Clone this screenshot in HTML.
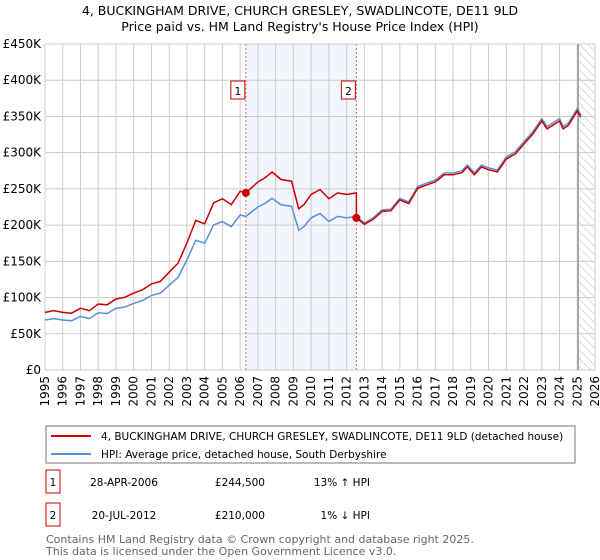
<!DOCTYPE html>
<html><head><meta charset="utf-8"><style>
body{margin:0;background:#fff;font-family:"DejaVu Sans","Liberation Sans",sans-serif;}
#wrap{position:relative;width:600px;height:560px;overflow:hidden;}
svg text{font-family:"DejaVu Sans","Liberation Sans",sans-serif;}
</style></head><body>
<div id="wrap">
<svg id="chart" width="600" height="560"></svg>
</div>
<script>
const hpiYears=[1995,1995.5,1996,1996.5,1997,1997.5,1998,1998.5,1999,1999.5,2000,2000.5,2001,2001.5,2002,2002.5,2003,2003.5,2004,2004.5,2005,2005.5,2006,2006.32,2007,2007.4,2007.8,2008.3,2008.9,2009.3,2009.6,2010,2010.5,2011,2011.5,2012,2012.55,2013,2013.5,2014,2014.5,2015,2015.5,2016,2016.5,2017,2017.5,2018,2018.5,2018.8,2019.2,2019.6,2020,2020.5,2021,2021.5,2022,2022.5,2023,2023.3,2024,2024.2,2024.5,2025,2025.2];
const hpiValues=[69,71,69,68,74,71,79,78,85,87,92,96,103,106,117,128,152,179,175,200,205,198,214,212,225,230,237,228,226,193,198,210,216,205,212,210,212,203,210,221,222,237,232,253,258,262,272,272,275,283,272,283,279,276,294,301,315,329,347,336,347,336,341,361,352];
const saleYears=[2006.32,2012.55];
const salePrices=[244.5,210];
const saleLabels=["1","2"];
const yTicks=[0,50,100,150,200,250,300,350,400,450];
const yTickLabels=["£0","£50K","£100K","£150K","£200K","£250K","£300K","£350K","£400K","£450K"];
const xTicks=[1995,1996,1997,1998,1999,2000,2001,2002,2003,2004,2005,2006,2007,2008,2009,2010,2011,2012,2013,2014,2015,2016,2017,2018,2019,2020,2021,2022,2023,2024,2025,2026];

const L=45,R=595,T=44,B=370;
const xs=y=>L+(y-1995)/(2026-1995)*(R-L);
const ys=v=>B-v/450*(B-T);
const svg=document.getElementById('chart');
const NS='http://www.w3.org/2000/svg';
function mk(tag,attrs,parent){const e=document.createElementNS(NS,tag);for(const k in attrs)e.setAttribute(k,attrs[k]);(parent||svg).appendChild(e);return e;}

let t=mk('text',{x:300,y:15,'text-anchor':'middle','font-size':12.5,fill:'#000'});t.textContent="4, BUCKINGHAM DRIVE, CHURCH GRESLEY, SWADLINCOTE, DE11 9LD";


t=mk('text',{x:300,y:31,'text-anchor':'middle','font-size':12.5,fill:'#000'});t.textContent="Price paid vs. HM Land Registry's House Price Index (HPI)";



let sh=mk('rect',{x:xs(saleYears[0]),y:T,width:xs(saleYears[1])-xs(saleYears[0]),height:B-T,fill:'#eef2fb',opacity:0.8});


const defs=mk('defs',{});
const pat=mk('pattern',{id:'h',width:6,height:6,patternUnits:'userSpaceOnUse',patternTransform:'rotate(-45)'},defs);
mk('line',{x1:0,y1:0,x2:0,y2:6,stroke:'#bbb','stroke-width':1},pat);
let hx=xs(2025.05);
let hr=mk('rect',{x:hx,y:T,width:R-hx,height:B-T,fill:'url(#h)'});



yTicks.forEach((v,i)=>{
  const g=mk('line',{x1:L,x2:R,y1:ys(v),y2:ys(v),stroke:'#ccc','stroke-width':1});
  
  
  const tx=mk('text',{x:L-4,y:ys(v)+4,'text-anchor':'end','font-size':12,fill:'#000'});tx.textContent=yTickLabels[i];
  
  
});
xTicks.forEach(y=>{
  const g=mk('line',{x1:xs(y),x2:xs(y),y1:T,y2:B,stroke:'#ccc','stroke-width':1});
  
  
  const tx=mk('text',{x:0,y:0,'text-anchor':'end','font-size':12,fill:'#000',transform:`translate(${xs(y)+4},${B+6}) rotate(-90)`});tx.textContent=y;
  
  
});
let vl=mk('line',{x1:hx,x2:hx,y1:T,y2:B,stroke:'#999','stroke-width':1.5});



saleYears.forEach((y,i)=>{
  const l=mk('line',{x1:xs(y),x2:xs(y),y1:T,y2:B,stroke:'#e66','stroke-width':1,'stroke-dasharray':'2,2'});
  
  
  const bx=mk('rect',{x:xs(y)-15,y:81,width:14,height:18,fill:'#fff',stroke:'#c00'});
  
  
  const tx=mk('text',{x:xs(y)-8,y:95,'text-anchor':'middle','font-size':11,fill:'#000'});tx.textContent=saleLabels[i];
  
  
});

function hpiAt(y){for(let i=1;i<hpiYears.length;i++){if(y<=hpiYears[i]){const f=(y-hpiYears[i-1])/(hpiYears[i]-hpiYears[i-1]);return hpiValues[i-1]+f*(hpiValues[i]-hpiValues[i-1]);}}return hpiValues[hpiValues.length-1];}
let d=hpiYears.map((y,i)=>(i?'L':'M')+xs(y).toFixed(1)+','+ys(hpiValues[i]).toFixed(1)).join('');
let hp=mk('path',{d:d,fill:'none',stroke:'#5b8fd6','stroke-width':1.5});


const r1=salePrices[0]/hpiAt(saleYears[0]), r2=salePrices[1]/hpiAt(saleYears[1]);
let pts=[];
hpiYears.forEach((y,i)=>{ if(y<saleYears[1]) pts.push([y,hpiValues[i]*r1]); });
pts.push([saleYears[1],hpiAt(saleYears[1])*r1]);
pts.push([saleYears[1],salePrices[1]]);
hpiYears.forEach((y,i)=>{ if(y>saleYears[1]) pts.push([y,hpiValues[i]*r2]); });
d=pts.map((p,i)=>(i?'L':'M')+xs(p[0]).toFixed(1)+','+ys(p[1]).toFixed(1)).join('');
let pl=mk('path',{d:d,fill:'none',stroke:'#cc0000','stroke-width':1.5});


saleYears.forEach((y,i)=>{
  const c=mk('circle',{cx:xs(y),cy:ys(salePrices[i]),r:4,fill:'#cc0000'});
  
  
});

let lg=mk('rect',{x:46,y:426,width:529,height:37,fill:'#fff',stroke:'#777'});


let ll=mk('line',{x1:51,x2:91,y1:436,y2:436,stroke:'#cc0000','stroke-width':2});


ll=mk('line',{x1:51,x2:91,y1:454,y2:454,stroke:'#5b8fd6','stroke-width':2});


t=mk('text',{x:101,y:440,'font-size':10.5,fill:'#000'});t.textContent="4, BUCKINGHAM DRIVE, CHURCH GRESLEY, SWADLINCOTE, DE11 9LD (detached house)";


t=mk('text',{x:101,y:458,'font-size':10.5,fill:'#000'});t.textContent="HPI: Average price, detached house, South Derbyshire";



const rowDates=["28-APR-2006","20-JUL-2012"], rowPrices=["£244,500","£210,000"], rowHpi=["13% ↑ HPI","1% ↓ HPI"];
[482,515].forEach((cy,i)=>{
  const b=mk('rect',{x:46,y:cy-12,width:14,height:23,fill:'#fff',stroke:'#c00'});
  
  
  let x=mk('text',{x:53,y:cy+4,'text-anchor':'middle','font-size':10.5,fill:'#000'});x.textContent=saleLabels[i];
  
  
  x=mk('text',{x:124,y:cy+4,'text-anchor':'middle','font-size':10.5,fill:'#000'});x.textContent=rowDates[i];
  
  
  x=mk('text',{x:265,y:cy+4,'text-anchor':'end','font-size':10.5,fill:'#000'});x.textContent=rowPrices[i];
  
  
  x=mk('text',{x:370,y:cy+4,'text-anchor':'end','font-size':10.5,fill:'#000'});x.textContent=rowHpi[i];
  
  
});
t=mk('text',{x:46,y:543,'font-size':11,fill:'#666'});t.textContent="Contains HM Land Registry data © Crown copyright and database right 2025.";


t=mk('text',{x:46,y:555,'font-size':11,fill:'#666'});t.textContent="This data is licensed under the Open Government Licence v3.0.";


</script>
</body></html>
